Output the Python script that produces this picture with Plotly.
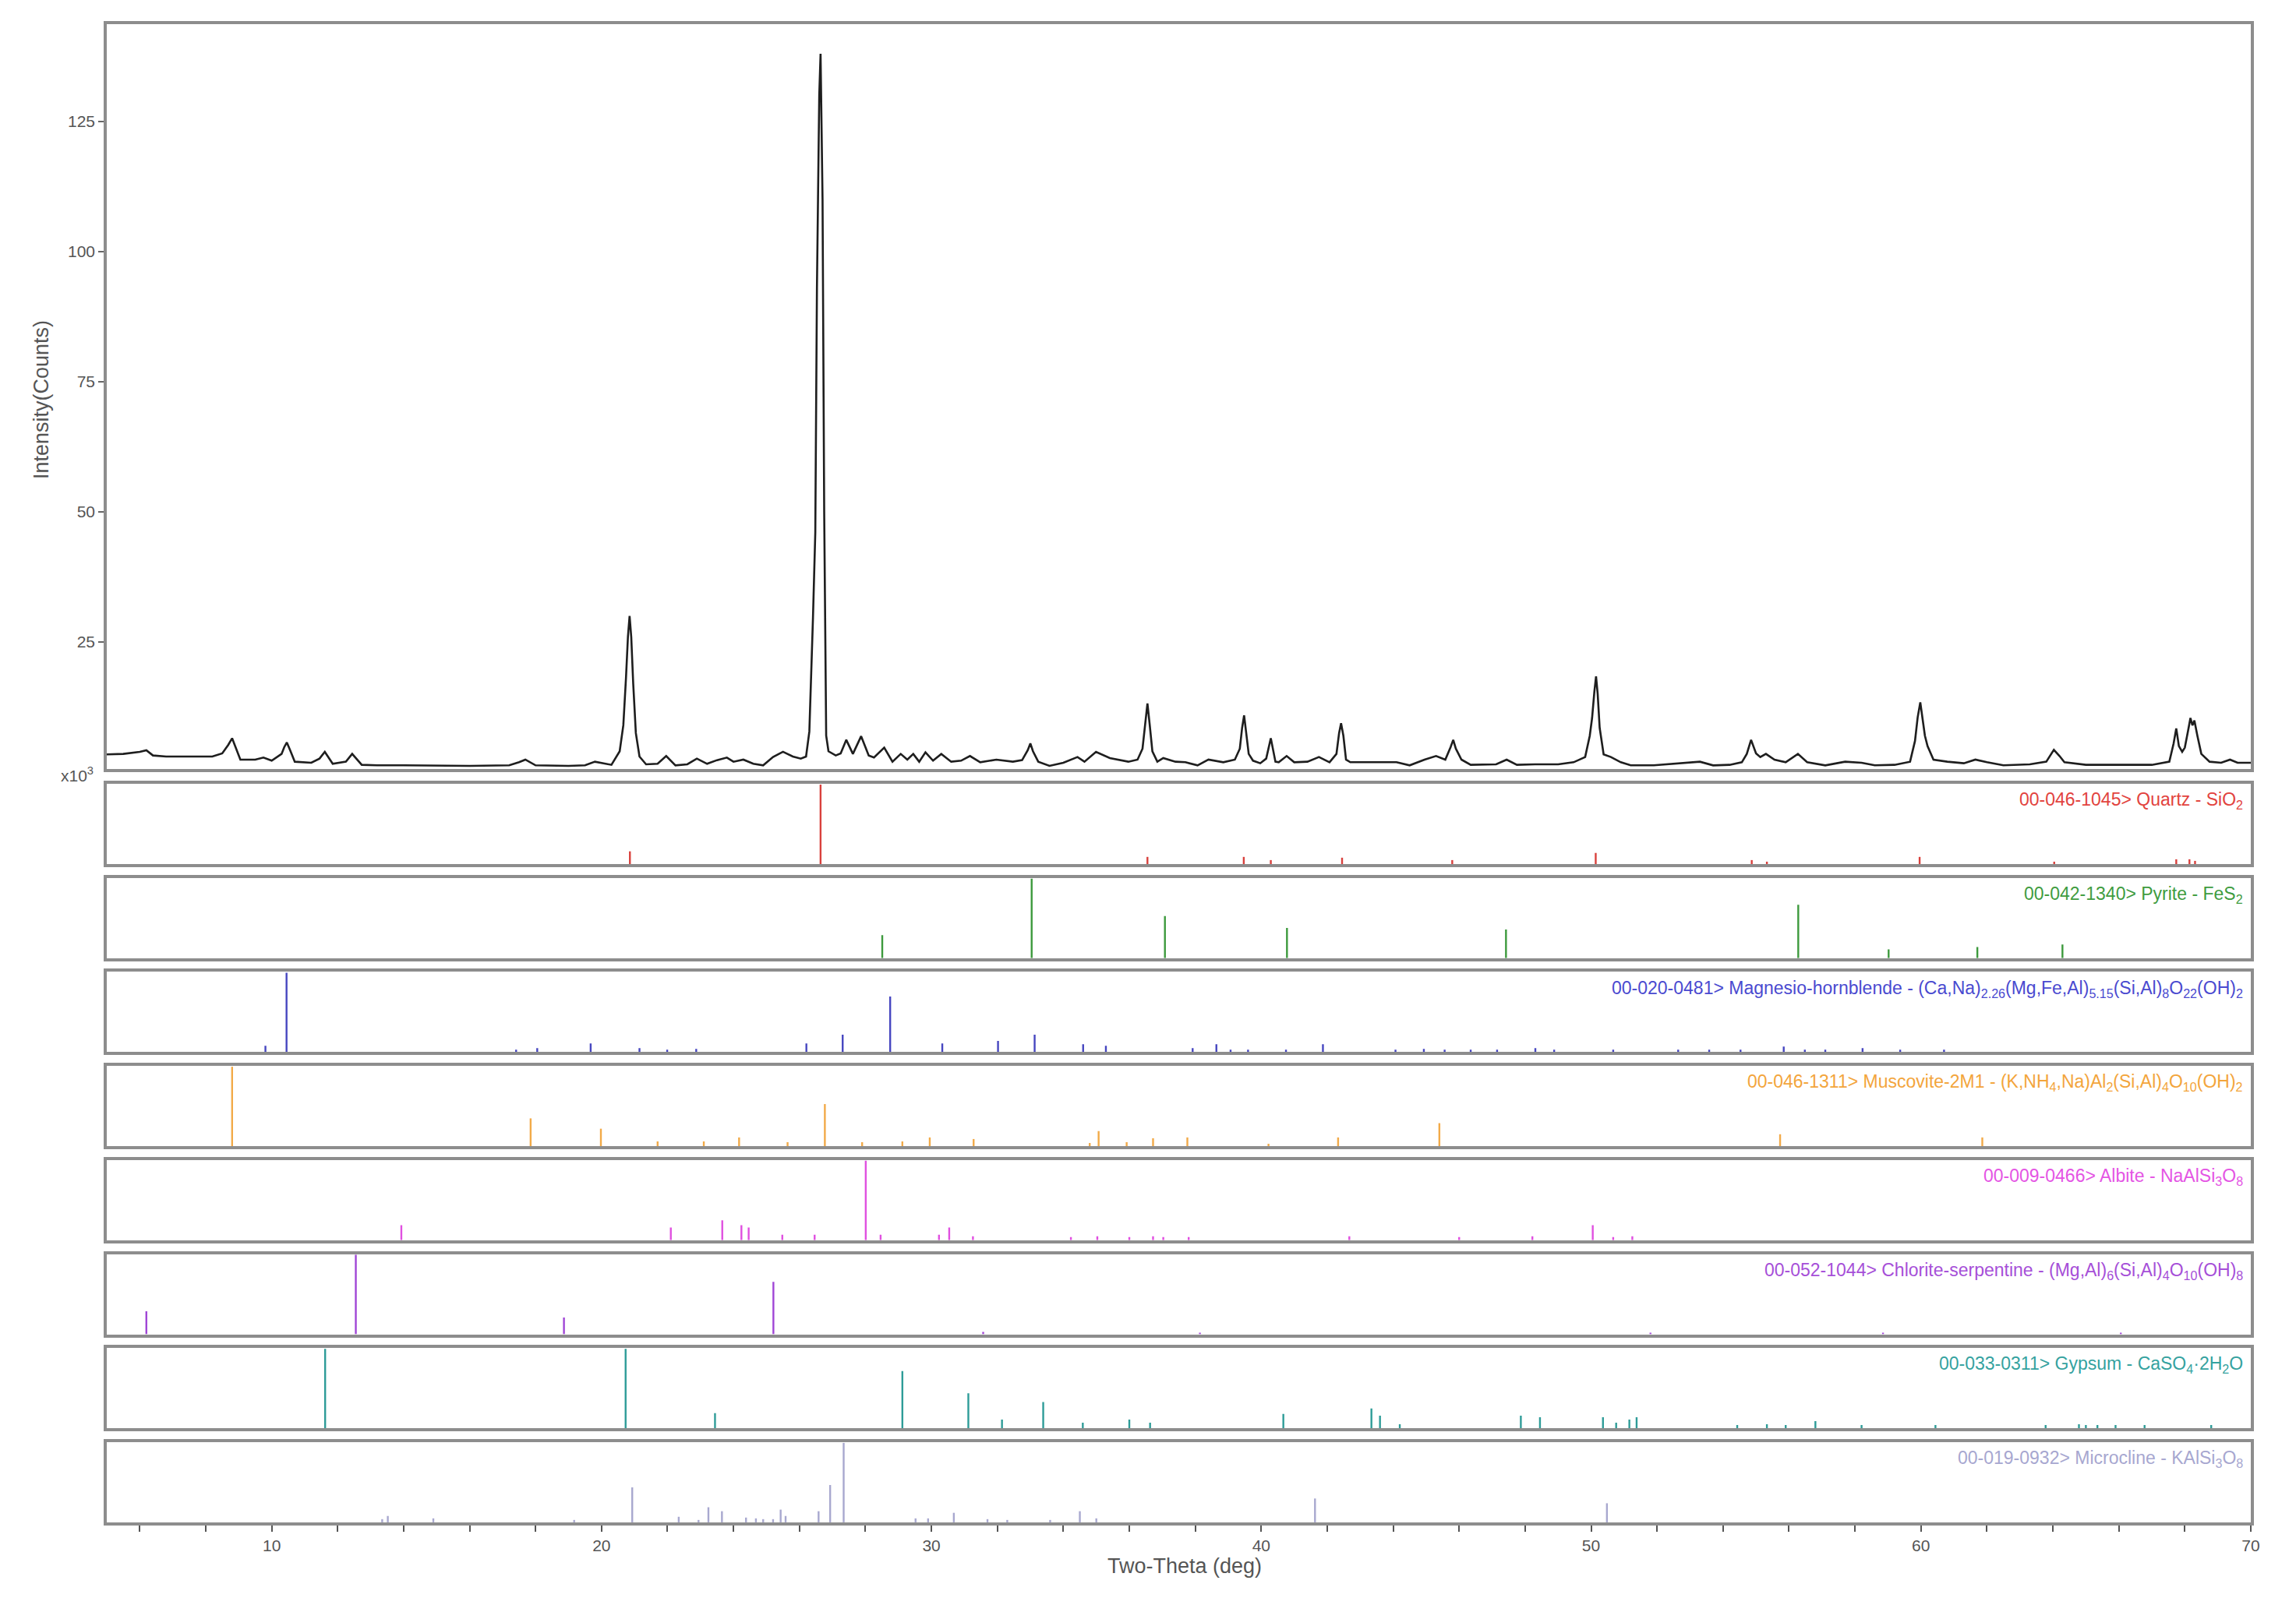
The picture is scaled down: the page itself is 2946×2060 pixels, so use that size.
import plotly.graph_objects as go

# ---------------- measured pattern (x1000 counts) ----------------
two_theta = [5.0, 5.5, 6.0, 6.2, 6.4, 6.8, 7.5, 8.2, 8.5, 8.68, 8.8, 8.92, 9.05, 9.5, 9.75, 10.0, 10.3,
             10.38, 10.46, 10.56, 10.7, 11.2, 11.45, 11.61, 11.85, 12.25, 12.44, 12.73, 13.2, 14.0, 15.0,
             16.0, 17.2, 17.5, 17.69, 18.0, 19.0, 19.5, 19.8, 20.3, 20.55, 20.66, 20.74, 20.8, 20.85,
             20.9, 20.96, 21.04, 21.15, 21.35, 21.7, 21.96, 22.24, 22.6, 22.89, 23.2, 23.5, 23.8, 24.0,
             24.3, 24.6, 24.9, 25.2, 25.5, 25.8, 26.04, 26.2, 26.3, 26.41, 26.48, 26.53, 26.6, 26.64,
             26.7, 26.75, 26.81, 26.88, 27.1, 27.25, 27.42, 27.62, 27.87, 28.1, 28.26, 28.57, 28.82,
             29.07, 29.27, 29.45, 29.63, 29.82, 30.05, 30.3, 30.6, 30.9, 31.17, 31.48, 31.97, 32.47,
             32.75, 32.92, 33.0, 33.08, 33.24, 33.58, 34.0, 34.43, 34.64, 34.99, 35.41, 35.97, 36.25,
             36.4, 36.48, 36.55, 36.62, 36.7, 36.85, 37.03, 37.4, 37.7, 38.07, 38.4, 38.85, 39.2, 39.35,
             39.42, 39.48, 39.55, 39.62, 39.75, 39.97, 40.15, 40.29, 40.43, 40.53, 40.77, 41.0, 41.4,
             41.75, 42.07, 42.28, 42.36, 42.42, 42.49, 42.57, 42.7, 43.3, 43.68, 44.1, 44.5, 44.95,
             45.3, 45.58, 45.74, 45.82, 45.9, 46.07, 46.35, 46.8, 47.12, 47.44, 47.75, 48.3, 49.0,
             49.47, 49.82, 49.96, 50.03, 50.1, 50.15, 50.2, 50.26, 50.38, 50.6, 50.9, 51.2, 51.9, 52.5,
             53.3, 53.7, 54.2, 54.57, 54.72, 54.85, 55.0, 55.13, 55.3, 55.56, 55.9, 56.27, 56.55, 57.1,
             57.7, 58.2, 58.6, 59.2, 59.67, 59.82, 59.9, 59.98, 60.05, 60.12, 60.2, 60.38, 60.8, 61.3,
             61.65, 62.0, 62.5, 63.3, 63.8, 64.03, 64.2, 64.35, 65.0, 66.0, 67.0, 67.53, 67.66, 67.74,
             67.82, 67.92, 68.0, 68.1, 68.17, 68.23, 68.29, 68.38, 68.5, 68.75, 69.1, 69.37, 69.6, 70.0]
intensity_k = [3.4, 3.5, 3.9, 4.2, 3.2, 3.0, 3.0, 3.0, 3.6, 5.2, 6.5, 4.6, 2.4, 2.4, 2.8, 2.2, 3.5,
               4.8, 5.7, 4.2, 2.0, 1.8, 2.6, 3.9, 1.6, 2.0, 3.5, 1.4, 1.3, 1.3, 1.2,
               1.2, 1.3, 1.9, 2.4, 1.3, 1.2, 1.3, 2.0, 1.4, 4.0, 9.0, 18.0, 26.0, 30.0,
               26.0, 17.0, 7.5, 3.0, 1.5, 1.6, 3.1, 1.3, 1.5, 2.6, 1.6, 2.3, 2.8, 2.0,
               2.4, 1.6, 1.3, 2.9, 3.9, 3.0, 2.6, 3.0, 7.8, 29.7, 46.0, 93.0, 130.0, 138.0,
               110.0, 50.0, 7.0, 4.0, 3.2, 3.6, 6.2, 3.5, 6.9, 3.2, 2.8, 4.7, 2.0,
               3.5, 2.4, 3.5, 2.0, 3.8, 2.2, 3.5, 2.0, 2.2, 3.1, 1.9, 2.4, 2.0,
               2.3, 4.2, 5.5, 4.0, 2.0, 1.2, 1.8, 2.9, 2.0, 3.9, 2.7, 2.0, 2.4,
               4.5, 9.5, 13.2, 9.0, 4.0, 2.0, 2.7, 2.0, 1.9, 1.3, 2.4, 1.9, 2.4, 4.5,
               8.5, 10.9, 7.5, 3.5, 2.2, 1.7, 2.6, 6.5, 2.0, 1.9, 3.1, 1.9, 2.0,
               2.9, 1.9, 3.5, 7.5, 9.4, 7.0, 2.4, 1.9, 1.9, 2.0, 1.9, 1.3, 2.4,
               3.1, 2.4, 4.8, 6.2, 4.5, 2.4, 1.4, 1.5, 1.5, 2.4, 1.4, 1.5, 1.5,
               1.9, 2.9, 7.0, 10.4, 15.5, 18.4, 15.0, 8.5, 3.4, 2.9, 1.9, 1.3, 1.3, 1.6,
               2.0, 1.3, 1.4, 1.9, 3.5, 6.2, 3.6, 2.9, 3.5, 2.4, 1.9, 3.5, 1.9, 1.3,
               2.0, 1.8, 1.3, 1.4, 2.0, 6.0, 10.5, 13.4, 10.0, 7.0, 5.0, 2.4, 2.0, 1.7,
               2.4, 1.9, 1.3, 1.5, 2.0, 4.3, 3.1, 1.9, 1.4, 1.4, 1.4, 2.0, 5.5, 8.4,
               5.0, 3.9, 4.7, 8.0, 10.4, 9.0, 9.9, 7.0, 3.5, 2.0, 1.8, 2.4, 1.8, 1.8]

# ---------------- reference patterns (relative intensity, %) ----------------
quartz_pos = [20.86, 26.64, 36.55, 39.47, 40.29, 42.45, 45.79, 50.14, 54.87, 55.33, 59.96, 64.04, 67.74, 68.14, 68.31]
quartz_int = [16, 100, 9, 9, 5, 8, 5, 14, 5, 3, 9, 3, 6, 6, 4]

pyrite_pos = [28.51, 33.04, 37.08, 40.78, 47.42, 56.28, 59.02, 61.71, 64.29]
pyrite_int = [29, 100, 53, 38, 36, 67, 11, 14, 17]

hornbl_pos = [9.81, 10.45, 17.41, 18.05, 19.67, 21.15, 21.99, 22.87, 26.21, 27.31, 28.75, 30.33, 32.02,
              33.13, 34.6, 35.29, 37.92, 38.64, 39.07, 39.6, 40.75, 41.87, 44.07, 44.93, 45.56, 46.35,
              47.15, 48.31, 48.88, 50.67, 52.64, 53.58, 54.53, 55.84, 56.48, 57.1, 58.23, 59.37, 60.7]
hornbl_int = [8, 100, 3, 5, 11, 5, 3, 4, 11, 22, 70, 11, 14,
              22, 10, 8, 5, 10, 3, 3, 3, 10, 3, 4, 3, 3,
              3, 5, 3, 3, 3, 3, 3, 7, 3, 3, 5, 3, 3]

muscov_pos = [8.8, 17.85, 19.98, 21.7, 23.1, 24.17, 25.64, 26.77, 27.9, 29.12, 29.95, 31.28, 34.8,
              35.07, 35.92, 36.72, 37.76, 40.22, 42.33, 45.4, 55.73, 61.86]
muscov_int = [100, 35, 22, 6, 6, 11, 5, 53, 5, 6, 11, 9, 4,
              19, 5, 10, 11, 3, 11, 29, 15, 11]

albite_pos = [13.93, 22.1, 23.66, 24.24, 24.46, 25.48, 26.46, 28.01, 28.46, 30.23, 30.54, 31.26, 34.23,
              35.03, 36.0, 36.72, 37.03, 37.8, 42.67, 46.0, 48.22, 50.05, 50.67, 51.25]
albite_int = [19, 16, 25, 19, 16, 7, 7, 100, 7, 7, 16, 5, 4,
              5, 4, 5, 4, 4, 5, 4, 5, 19, 4, 5]

chlor_pos = [6.2, 12.55, 18.86, 25.21, 31.57, 38.14, 51.8, 58.85, 66.06]
chlor_int = [29, 100, 21, 66, 3, 2, 2, 2, 2]

gypsum_pos = [11.62, 20.73, 23.44, 29.12, 31.12, 32.14, 33.39, 34.59, 36.0, 36.63, 40.67, 43.34, 43.6,
              44.2, 47.87, 48.45, 50.36, 50.76, 51.16, 51.38, 54.43, 55.33, 55.9, 56.8, 58.2, 60.44,
              63.78, 64.79, 65.0, 65.35, 65.9, 66.78, 68.8]
gypsum_int = [100, 100, 19, 72, 44, 11, 33, 7, 11, 7, 18, 25, 16,
              5, 16, 14, 14, 7, 11, 14, 4, 5, 4, 9, 4, 4,
              4, 5, 4, 4, 4, 4, 4]

microc_pos = [13.35, 13.52, 14.9, 19.17, 20.93, 22.34, 22.94, 23.24, 23.65, 24.38, 24.68, 24.9, 25.2,
              25.43, 25.58, 26.58, 26.93, 27.34, 29.52, 29.9, 30.68, 31.7, 32.3, 33.6, 34.5, 35.0,
              41.63, 50.48]
microc_int = [4, 8, 5, 3, 44, 7, 3, 19, 14, 6, 5, 4, 4,
              16, 8, 14, 47, 100, 5, 5, 12, 4, 3, 3, 14, 5,
              30, 24]

phase_labels = [
    "00-046-1045> Quartz - SiO<sub>2</sub>",
    "00-042-1340> Pyrite - FeS<sub>2</sub>",
    "00-020-0481> Magnesio-hornblende - (Ca,Na)<sub>2.26</sub>(Mg,Fe,Al)<sub>5.15</sub>(Si,Al)<sub>8</sub>O<sub>22</sub>(OH)<sub>2</sub>",
    "00-046-1311> Muscovite-2M1 - (K,NH<sub>4</sub>,Na)Al<sub>2</sub>(Si,Al)<sub>4</sub>O<sub>10</sub>(OH)<sub>2</sub>",
    "00-009-0466> Albite - NaAlSi<sub>3</sub>O<sub>8</sub>",
    "00-052-1044> Chlorite-serpentine - (Mg,Al)<sub>6</sub>(Si,Al)<sub>4</sub>O<sub>10</sub>(OH)<sub>8</sub>",
    "00-033-0311> Gypsum - CaSO<sub>4</sub>·2H<sub>2</sub>O",
    "00-019-0932> Microcline - KAlSi<sub>3</sub>O<sub>8</sub>",
]

y_tick_vals = [25, 50, 75, 100, 125]
y_tick_text = ["25", "50", "75", "100", "125"]
x_tick_vals = list(range(6, 71, 2))
x_tick_text = [str(v) if v % 10 == 0 else "" for v in x_tick_vals]

# ---------------- styling ----------------
phase_data = [(quartz_pos, quartz_int), (pyrite_pos, pyrite_int), (hornbl_pos, hornbl_int),
              (muscov_pos, muscov_int), (albite_pos, albite_int), (chlor_pos, chlor_int),
              (gypsum_pos, gypsum_int), (microc_pos, microc_int)]
stick_colors = ["#d9403c", "#3d9a3d", "#4646c0", "#f2aa48", "#e050e0", "#a046d6", "#2e9c98", "#a8a8cf"]
label_colors = ["#e2433e", "#3f9c3f", "#4a4ad0", "#f3a53c", "#e455e4", "#a64fd8", "#35a29f", "#a7a7d0"]

W, H = 2946, 2060
L, R = 129, 66
TOP, BOT = 23, 1948
SPAN = BOT - TOP
PW = W - L - R
FONT = "Liberation Sans, Arial, sans-serif"
BORDER = "#8d8d8d"


def frac(px):
    return (BOT - px) / SPAN


def xfrac(px):
    return (px - L) / PW


fig = go.Figure()
fig.add_trace(go.Scatter(x=two_theta, y=intensity_k, mode="lines",
                         line=dict(color="#1e1e1e", width=2.6),
                         xaxis="x", yaxis="y", hoverinfo="skip", showlegend=False))

layout = dict(
    width=W, height=H, paper_bgcolor="white", plot_bgcolor="white",
    margin=dict(l=L, r=R, t=TOP, b=H - BOT), showlegend=False,
    font=dict(family=FONT, color="#555555"),
)

base_x = dict(range=[5, 70], showline=True, mirror=True, linecolor=BORDER, linewidth=3.5,
              showgrid=False, zeroline=False, showticklabels=False, ticks="")
layout["xaxis"] = dict(base_x, domain=[0, 1], anchor="y")
layout["yaxis"] = dict(range=[0.6, 143.7], domain=[frac(979), 1.0], showline=True, mirror=True,
                       linecolor=BORDER, linewidth=3.5, showgrid=False, zeroline=False,
                       tickvals=y_tick_vals, ticktext=y_tick_text, ticks="outside", ticklen=7,
                       tickcolor="#666666", tickwidth=1.5,
                       tickfont=dict(size=21, color="#555555", family=FONT))

annotations = []
for i, ((pos, rel), col) in enumerate(zip(phase_data, stick_colors)):
    k = i + 2
    xs, ys = [], []
    for p, r in zip(pos, rel):
        xs += [p, p, None]
        ys += [0, r, None]
    fig.add_trace(go.Scatter(x=xs, y=ys, mode="lines", line=dict(color=col, width=2.4),
                             xaxis=f"x{k}", yaxis=f"y{k}", hoverinfo="skip", showlegend=False))
    top = 998 + 120.7 * i
    bot = top + 103
    lo = max(frac(bot), 0.0)
    xa = dict(base_x, matches="x", anchor=f"y{k}", domain=[0, 1])
    if i == 7:
        xa.update(showticklabels=True, ticks="outside", ticklen=8, tickwidth=1.5, tickcolor="#555555",
                  tickvals=x_tick_vals, ticktext=x_tick_text,
                  tickfont=dict(size=21, color="#555555", family=FONT))
    layout[f"xaxis{k}"] = xa
    layout[f"yaxis{k}"] = dict(range=[0, 101], domain=[lo, frac(top)], showline=True, mirror=True,
                               linecolor=BORDER, linewidth=3.5, showgrid=False, zeroline=False,
                               showticklabels=False, ticks="", anchor=f"x{k}")
    annotations.append(dict(text=phase_labels[i], xref=f"x{k} domain", yref=f"y{k} domain",
                            x=0.997, y=0.95, xanchor="right", yanchor="top", showarrow=False,
                            font=dict(size=23, color=label_colors[i], family=FONT)))

annotations.append(dict(text="Intensity(Counts)", xref="paper", yref="paper",
                        x=xfrac(45), y=frac(505), xanchor="center", yanchor="middle", textangle=-90,
                        showarrow=False, font=dict(size=27, color="#555555", family=FONT)))
annotations.append(dict(text="x10<sup>3</sup>", xref="paper", yref="paper",
                        x=xfrac(114), y=frac(986), xanchor="right", yanchor="middle",
                        showarrow=False, font=dict(size=21, color="#555555", family=FONT)))
annotations.append(dict(text="Two-Theta (deg)", xref="paper", yref="paper",
                        x=xfrac(1512), y=frac(2002), xanchor="center", yanchor="middle",
                        showarrow=False, font=dict(size=27, color="#555555", family=FONT)))
layout["annotations"] = annotations

fig.update_layout(**layout)
fig.write_html("out.html")
